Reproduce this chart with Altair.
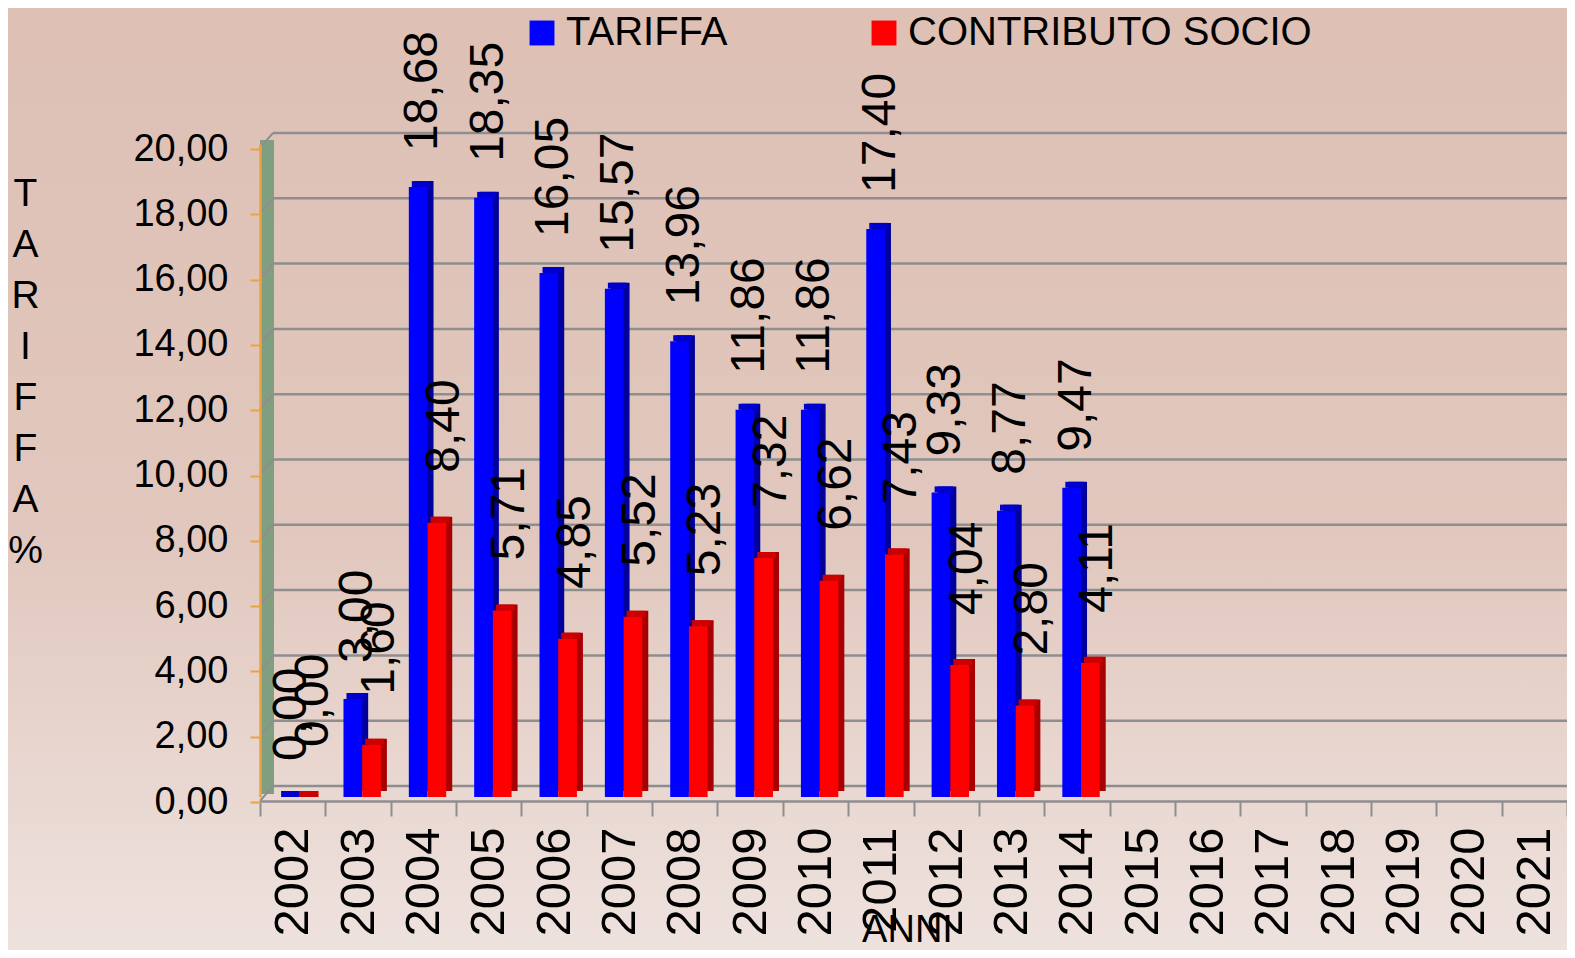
import altair as alt
import pandas as pd

# ---------------- data ----------------
anni = [str(y) for y in range(2002, 2022)]
anni_dati = [str(y) for y in range(2002, 2015)]
tariffa = [0.00, 3.00, 18.68, 18.35, 16.05, 15.57, 13.96, 11.86, 11.86, 17.40, 9.33, 8.77, 9.47]
contributo = [0.00, 1.60, 8.40, 5.71, 4.85, 5.52, 5.23, 7.32, 6.62, 7.43, 4.04, 2.80, 4.11]
serie = ["TARIFFA", "CONTRIBUTO SOCIO"]
y_ticks = [0, 2, 4, 6, 8, 10, 12, 14, 16, 18, 20]
y_title = ["T", "A", "R", "I", "F", "F", "A", "%"]

rows = []
for a, t, c in zip(anni_dati, tariffa, contributo):
    rows.append({"anno": a, "serie": serie[0], "val": t})
    rows.append({"anno": a, "serie": serie[1], "val": c})
df = pd.DataFrame(rows)
ticks_df = pd.DataFrame({"v": y_ticks})
one = pd.DataFrame({"k": [0]})

# ---------------- layout ----------------
W, H = 1307, 653
PAD_L, PAD_T, PAD_R, PAD_B = 252, 136, 0, 153
FONT = "Liberation Sans"
BW = 18.7

xscale = alt.Scale(domain=anni, paddingInner=0, paddingOuter=0)
yscale = alt.Scale(domain=[0, 20], nice=False, zero=True)

XAXIS = alt.Axis(
    title="ANNI", labelAngle=270, labelFontSize=49, labelFont=FONT, labelColor="black",
    labelPadding=11, tickSize=15, tickBand="extent", offset=4,
    domainColor="#8E8E8E", domainWidth=2.5, tickColor="#8E8E8E", tickWidth=2,
    titleFont=FONT, titleFontSize=38, titleFontWeight="normal", titleColor="black",
    titleX=647, titleY=140, titleBaseline="alphabetic", titleAlign="center",
    zindex=1, grid=False)
YAXIS = alt.Axis(
    title=y_title, titleAngle=0, titleAlign="center", titleBaseline="top",
    titleX=-235, titleY=30, titleFontSize=39, titleLineHeight=51,
    titleFont=FONT, titleFontWeight="normal", titleColor="black",
    values=y_ticks, labelExpr="replace(format(datum.value, '.2f'), '.', ',')",
    labelFontSize=38, labelFont=FONT, labelColor="black", labelPadding=22,
    tickSize=10, tickColor="#EEA23A", tickWidth=2, tickOffset=5,
    domainColor="#EEA23A", domainWidth=2.5, grid=False, zindex=1)

bg_fill = {
    "gradient": "linear", "x1": 0, "y1": 0, "x2": 0, "y2": 1,
    "stops": [
        {"offset": 0, "color": "#DEC0B5"},
        {"offset": 0.55, "color": "#E1C7BD"},
        {"offset": 1, "color": "#EEE2DE"},
    ],
}

bg = alt.Chart(one).mark_rect(fill=bg_fill).encode(
    x=alt.value(-PAD_L), x2=alt.value(W + PAD_R),
    y=alt.value(-PAD_T), y2=alt.value(H + PAD_B),
)

wall = alt.Chart(one).mark_rect(color="#7F9F80", yOffset=-4, y2Offset=-3).encode(
    x=alt.value(0), x2=alt.value(14),
    y=alt.YDatum(20, scale=yscale, axis=YAXIS), y2=alt.Y2Datum(0),
)

grid = alt.Chart(ticks_df).mark_rule(color="#8E8E8E", strokeWidth=2.5, yOffset=-11).encode(
    x=alt.value(13), x2=alt.value(W),
    y=alt.Y("v:Q", scale=yscale, axis=YAXIS),
)

diag = alt.Chart(ticks_df).mark_rule(color="#8E8E8E", strokeWidth=2, yOffset=4, y2Offset=-11).encode(
    x=alt.value(0), x2=alt.value(13),
    y=alt.Y("v:Q", scale=yscale, axis=YAXIS), y2=alt.Y2("v:Q"),
)

color_scale = alt.Scale(domain=serie, range=["#0000FF", "#FF0000"])


def bars(name, xo, side_col, top_col, with_legend, dy_lab, dx_lab):
    base = alt.Chart(df).transform_filter(alt.datum.serie == name)
    xenc = alt.X("anno:N", scale=xscale, axis=XAXIS, sort=anni)
    yenc = alt.Y("val:Q", scale=yscale, axis=YAXIS)
    side = base.mark_bar(width=BW, xOffset=xo + 6, yOffset=-6, y2Offset=-6, color=side_col).encode(
        x=xenc, y=yenc, y2=alt.Y2Datum(0))
    top = base.mark_bar(width=BW, xOffset=xo + 3, yOffset=-6, y2Offset=0, color=top_col).encode(
        x=xenc, y=yenc, y2=alt.Y2("val:Q"))
    if with_legend:
        leg = alt.Legend(title=None, orient="none", legendX=262, legendY=-131,
                         direction="horizontal", symbolType="square", symbolSize=620,
                         symbolStrokeWidth=0, labelFontSize=40, labelFont=FONT,
                         labelColor="black", labelLimit=0, labelOffset=4,
                         columnPadding=136, padding=0)
    else:
        leg = None
    front = base.mark_bar(width=BW, xOffset=xo, opacity=1).encode(
        x=xenc, y=yenc, y2=alt.Y2Datum(0),
        color=alt.Color("serie:N", scale=color_scale, legend=leg))
    text = base.transform_calculate(
        lab="replace(format(datum.val, '.2f'), '.', ',')"
    ).mark_text(angle=270, align="left", baseline="middle", fontSize=48, font=FONT,
                color="black", dx=dx_lab, dy=dy_lab, xOffset=xo).encode(
        x=xenc, y=yenc, text="lab:N")
    return [side, top, front, text]


blue_layers = bars("TARIFFA", -5.2, "#00009C", "#0000CC", True, 5, 36)
red_layers = bars("CONTRIBUTO SOCIO", 13.5, "#A80000", "#CC0000", False, 8, 50)

layers = [bg, wall, grid, diag] + blue_layers[:3] + red_layers[:3] + [blue_layers[3], red_layers[3]]

chart = alt.layer(*layers).properties(
    width=W, height=H,
    padding={"left": PAD_L, "top": PAD_T, "right": PAD_R, "bottom": PAD_B},
    autosize=alt.AutoSizeParams(type="none"),
).configure_view(stroke=None).configure(background="#DEC0B5")

chart.save("out.html", embed_options={"renderer": "svg", "actions": False})
